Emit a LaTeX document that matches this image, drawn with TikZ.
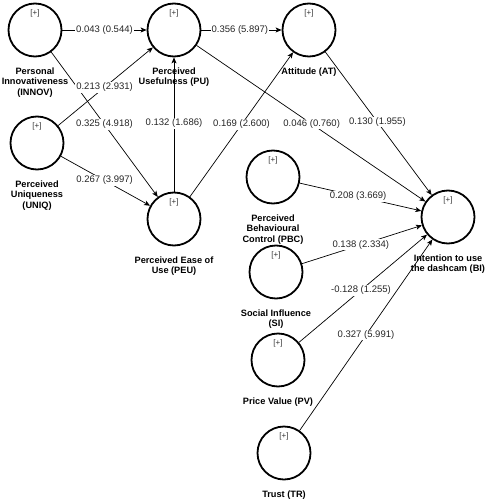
\documentclass[tikz,border=0pt]{standalone}
\usepackage{fontspec}
\setmainfont{Liberation Sans}
\usetikzlibrary{arrows.meta,positioning}
\newcommand\LVnode[3]{%
  \node[lv] (#1) at (#2) {};
  \node[plusmark] (#1p) at ([yshift=17pt]#1.center) {[+]};
  \node[lvname,below=10pt of #1] (#1t) {#3};}
\begin{document}
\begin{tikzpicture}[x=1pt,y=-1pt,
  lv/.style={circle,draw=black,line width=1.8pt,minimum size=53pt,inner sep=0pt},
  plusmark/.style={font=\fontsize{8}{9}\selectfont,text=black!80,inner sep=0pt},
  lvname/.style={font=\fontsize{9.2}{10.5}\selectfont\bfseries,align=center,inner sep=0pt},
  pathc/.style={draw=black,line width=0.7pt,-{Stealth[length=6pt,width=5pt,inset=1.5pt]}},
  coef/.style={font=\fontsize{9.5}{11}\selectfont,fill=white,inner sep=1pt,text=black!85}]
\useasboundingbox (0,0) rectangle (486,500);
\LVnode{INNOV}{35,30}{Personal\\Innovativeness\\(INNOV)}
\LVnode{PU}{174,30}{Perceived\\Usefulness (PU)}
\LVnode{AT}{309,30}{Attitude (AT)}
\LVnode{UNIQ}{37,143}{Perceived\\Uniqueness\\(UNIQ)}
\LVnode{PEU}{174,219}{Perceived Ease of\\Use (PEU)}
\LVnode{PBC}{273,177}{Perceived\\Behavioural\\Control (PBC)}
\LVnode{BI}{448,217}{Intention to use\\the dashcam (BI)}
\LVnode{SI}{276,272}{Social Influence\\(SI)}
\LVnode{PV}{278,360}{Price Value (PV)}
\LVnode{TR}{284,453}{Trust (TR)}
\draw[pathc] (INNOV) -- node[coef,pos=0.5]{0.043 (0.544)} (PU);
\draw[pathc] (PU) -- node[coef,pos=0.48]{0.356 (5.897)} (AT);
\draw[pathc] (INNOV) -- node[coef,pos=0.5]{0.325 (4.918)} (PEU);
\draw[pathc] (UNIQ) -- node[coef,pos=0.49]{0.213 (2.931)} (PU);
\draw[pathc] (UNIQ) -- node[coef,pos=0.49]{0.267 (3.997)} (PEU);
\draw[pathc] (PEU) -- node[coef,pos=0.51]{0.132 (1.686)} (PU);
\draw[pathc] (PEU) -- node[coef,pos=0.5]{0.169 (2.600)} (AT);
\draw[pathc] (PU) -- node[coef,pos=0.503]{0.046 (0.760)} (BI);
\draw[pathc] (AT) -- node[coef,pos=0.49]{0.130 (1.955)} (BI);
\draw[pathc] (PBC) -- node[coef,pos=0.48]{0.208 (3.669)} (BI);
\draw[pathc] (SI) -- node[coef,pos=0.49]{0.138 (2.334)} (BI);
\draw[pathc] (PV) -- node[coef,pos=0.484]{-0.128 (1.255)} (BI);
\draw[pathc] (TR) -- node[coef,pos=0.5]{0.327 (5.991)} (BI);
\end{tikzpicture}
\end{document}
